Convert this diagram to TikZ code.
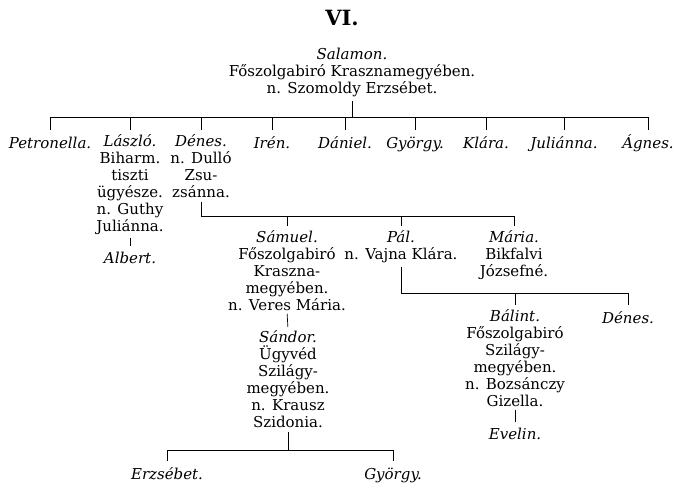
\documentclass[tikz,border=0pt]{standalone}
\usepackage{fontspec}
\setmainfont{DejaVu Serif}
\usetikzlibrary{positioning}

\begin{document}
\begin{tikzpicture}[x=1pt, y=-1pt,
  every node/.style={font=\fontsize{15}{17}\selectfont, align=center, inner sep=1pt},
  person/.style={anchor=north, execute at begin node={\vphantom{Ál}}},
  line/.style={line width=0.7pt},
  down/.style={line width=0.7pt, shorten <=3pt},
  tick/.style={line width=0.7pt, shorten >=3pt}]
  \useasboundingbox (0,0) rectangle (682,490);

  \node[font=\bfseries\fontsize{21}{24}\selectfont] (title) at (342,18) {VI.};

  % first generation
  \node[person] (salamon) at (352,47) {\textit{Salamon.}\\Főszolgabiró Krasznamegyében.\\n. Szomoldy Erzsébet.};

  % children of Salamon
  \coordinate (bar1) at (0,117);
  \node[person] (petronella) at (50,133) {\textit{Petronella.}};
  \node[person] (laszlo) at (130,133) {\textit{László.}\\Biharm.\\tiszti\\ügyésze.\\n. Guthy\\Juliánna.};
  \node[person] (denes) at (201,133) {\textit{Dénes.}\\n. Dulló\\Zsu-\\zsánna.};
  \node[person] (iren) at (272,133) {\textit{Irén.}};
  \node[person] (daniel) at (345,133) {\textit{Dániel.}};
  \node[person] (gyorgy) at (415,133) {\textit{György.}};
  \node[person] (klara) at (486,133) {\textit{Klára.}};
  \node[person] (julianna) at (564,133) {\textit{Juliánna.}};
  \node[person] (agnes) at (648,133) {\textit{Ágnes.}};
  \draw[down] (salamon.south) -- (salamon.south |- bar1);
  \draw[line] (bar1 -| petronella.north) -- (bar1 -| agnes.north);
  \foreach \n in {petronella,laszlo,denes,iren,daniel,gyorgy,klara,julianna,agnes}
    \draw[tick] (bar1 -| \n.north) -- (\n.north);

  \node[person] (albert) at (130,248) {\textit{Albert.}};
  \draw[line, shorten <=2pt, shorten >=2pt] (laszlo.south) -- (albert.north);

  % children of Dénes
  \coordinate (bar2) at (0,216);
  \node[person] (samuel) at (287,229) {\textit{Sámuel.}\\Főszolgabiró\\Kraszna-\\megyében.\\n. Veres Mária.};
  \node[person] (pal) at (401,229) {\textit{Pál.}\\n. Vajna Klára.};
  \node[person] (maria) at (514,229) {\textit{Mária.}\\Bikfalvi\\Józsefné.};
  \draw[down] (denes.south) -- (denes.south |- bar2);
  \draw[line] (denes.south |- bar2) -- (bar2 -| maria.north);
  \foreach \n in {samuel,pal,maria}
    \draw[tick] (bar2 -| \n.north) -- (\n.north);

  % children of Pál
  \coordinate (bar3) at (0,293);
  \node[person] (balint) at (515,308) {\textit{Bálint.}\\Főszolgabiró\\Szilágy-\\megyében.\\n. Bozsánczy\\Gizella.};
  \node[person] (denesb) at (628,308) {\textit{Dénes.}};
  \draw[down] (pal.south) -- (pal.south |- bar3);
  \draw[line] (pal.south |- bar3) -- (bar3 -| denesb.north);
  \foreach \n in {balint,denesb}
    \draw[tick] (bar3 -| \n.north) -- (\n.north);

  \node[person] (evelin) at (515,424) {\textit{Evelin.}};
  \draw[line, shorten <=2pt, shorten >=2pt] (balint.south) -- (evelin.north);

  % son of Sámuel
  \node[person] (sandor) at (288,329) {\textit{Sándor.}\\Ügyvéd\\Szilágy-\\megyében.\\n. Krausz\\Szidonia.};
  \draw[line, shorten <=2pt, shorten >=2pt] (samuel.south) -- (sandor.north);

  % children of Sándor
  \coordinate (bar4) at (0,450);
  \node[person] (erzsebet) at (167,464) {\textit{Erzsébet.}};
  \node[person] (gyorgyb) at (393,464) {\textit{György.}};
  \draw[down] (sandor.south) -- (sandor.south |- bar4);
  \draw[line] (bar4 -| erzsebet.north) -- (bar4 -| gyorgyb.north);
  \foreach \n in {erzsebet,gyorgyb}
    \draw[tick] (bar4 -| \n.north) -- (\n.north);
\end{tikzpicture}
\end{document}
